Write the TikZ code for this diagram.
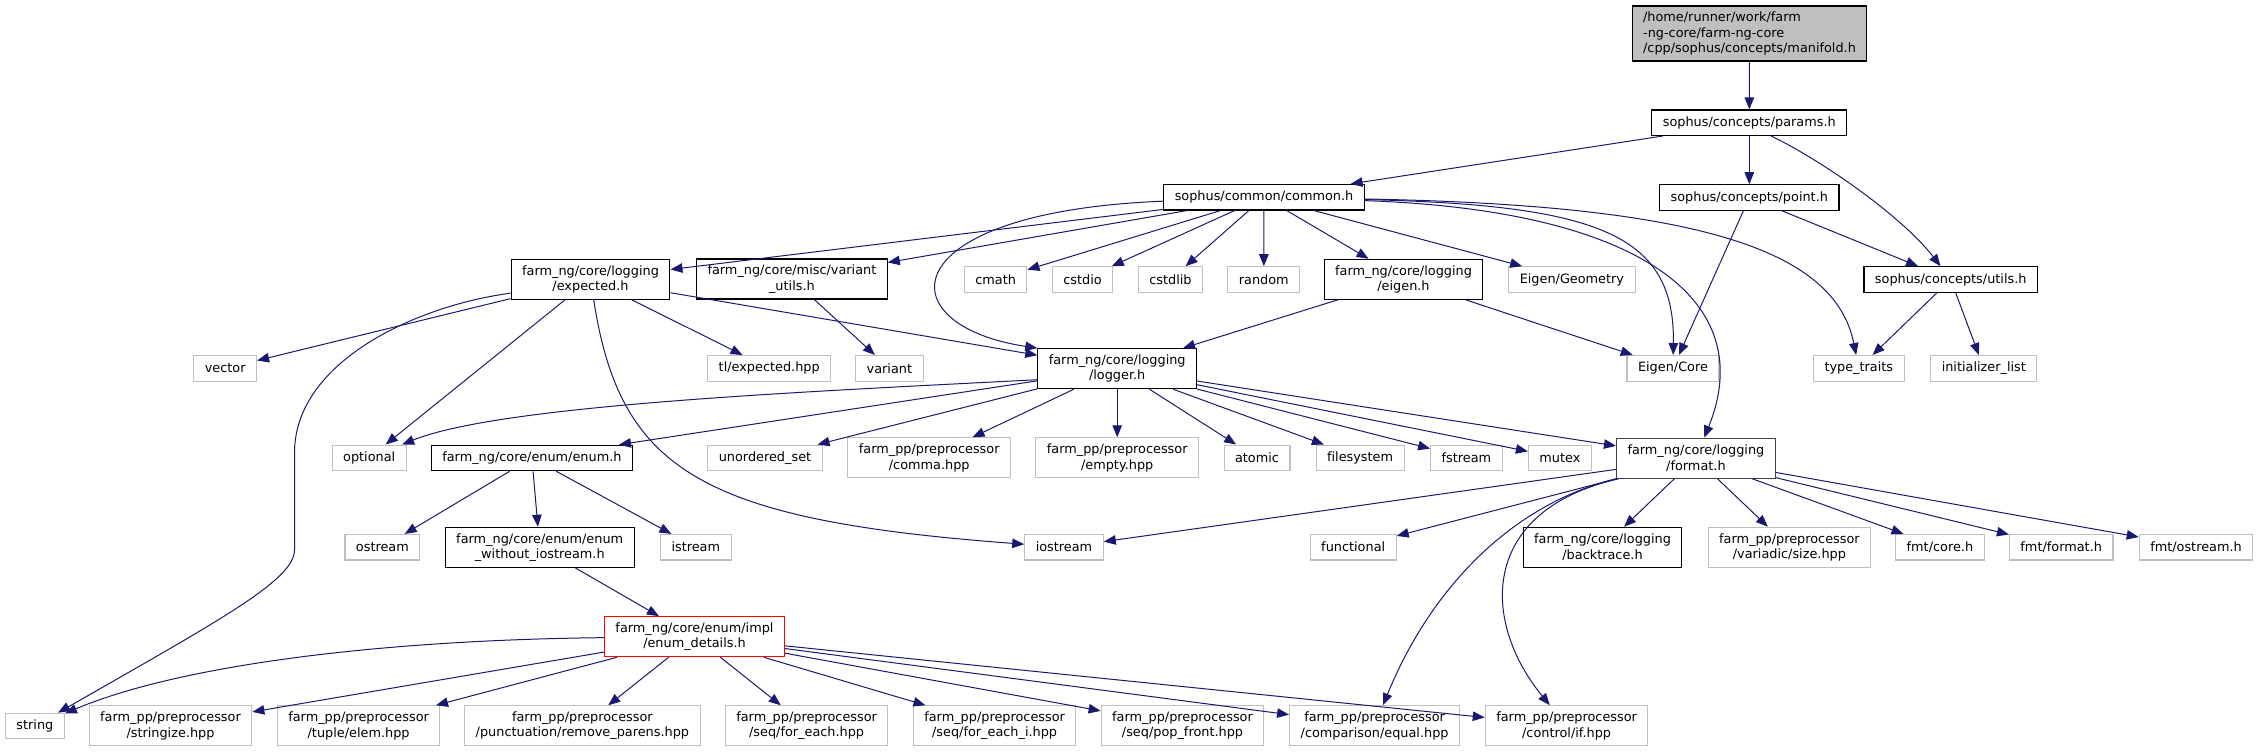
\documentclass[tikz,border=0pt]{standalone}
\usepackage{fontspec}
\setmainfont{DejaVu Sans}[Ligatures=NoCommon]
\usetikzlibrary{arrows.meta}
\definecolor{edgeblue}{HTML}{191970}
\definecolor{extgray}{HTML}{BFBFBF}
\definecolor{darkborder}{HTML}{404040}

\begin{document}
\begin{tikzpicture}[x=1pt, y=-1pt,
  file/.style={draw, line width=1.1pt, inner xsep=11pt, inner ysep=1pt,
    minimum height=25.5pt, align=center, font=\fontsize{12.85}{15.3}\selectfont},
  doc/.style={file, draw=black},
  ext/.style={file, draw=extgray},
  two/.style={minimum height=40pt},
  incl/.style={-{Triangle[length=12pt, width=9.5pt]}, line width=1pt, edgeblue}
]
  \useasboundingbox (0,0) rectangle (2259,752);

  \node[doc, fill=extgray, align=left, minimum height=55pt] (manifold) at (1749.5,33.5)
    {/home/runner/work/farm\\-ng-core/farm-ng-core\\/cpp/sophus/concepts/manifold.h};
  \node[doc] (params) at (1749.3,122.7) {sophus/concepts/params.h};
  \node[doc] (common) at (1264,197.2) {sophus/common/common.h};
  \node[doc] (point) at (1749.3,197.5) {sophus/concepts/point.h};
  \node[doc] (utils) at (1950.7,279.5) {sophus/concepts/utils.h};

  \node[doc, two] (expected) at (590.5,279.2) {farm\_ng/core/logging\\/expected.h};
  \node[doc, two] (variantutils) at (791.9,279) {farm\_ng/core/misc/variant\\\_utils.h};
  \node[ext] (cmath) at (995.6,279.5) {cmath};
  \node[ext] (cstdio) at (1082.5,279.5) {cstdio};
  \node[ext] (cstdlib) at (1170.5,279.5) {cstdlib};
  \node[ext] (random) at (1263.8,279.5) {random};
  \node[doc, two] (eigenh) at (1403.5,279.3) {farm\_ng/core/logging\\/eigen.h};
  \node[ext] (geometry) at (1571.9,279.5) {Eigen/Geometry};

  \node[ext] (vector) at (225.2,368.3) {vector};
  \node[ext] (tlexpected) at (769.2,368.3) {tl/expected.hpp};
  \node[ext] (variant) at (889.4,368.3) {variant};
  \node[doc, two] (logger) at (1117.2,368.7) {farm\_ng/core/logging\\/logger.h};
  \node[ext] (eigencore) at (1673,368.3) {Eigen/Core};
  \node[ext] (typetraits) at (1858.8,368.3) {type\_traits};
  \node[ext] (initlist) at (1983.8,368.3) {initializer\_list};

  \node[ext] (optional) at (369.2,457.8) {optional};
  \node[doc] (enumh) at (531.9,458) {farm\_ng/core/enum/enum.h};
  \node[ext] (unorderedset) at (765,457.8) {unordered\_set};
  \node[ext, two] (comma) at (929.2,457.8) {farm\_pp/preprocessor\\/comma.hpp};
  \node[ext, two] (empty) at (1117.2,457.8) {farm\_pp/preprocessor\\/empty.hpp};
  \node[ext] (atomic) at (1257,457.8) {atomic};
  \node[ext] (filesystem) at (1360.1,457.8) {filesystem};
  \node[ext] (fstream) at (1466.4,457.8) {fstream};
  \node[ext] (mutex) at (1559.9,457.8) {mutex};
  \node[file, two, draw=darkborder] (format) at (1695.9,458.2) {farm\_ng/core/logging\\/format.h};

  \node[ext] (ostream) at (382.4,547.2) {ostream};
  \node[doc, two] (enumnoio) at (539.7,547.3) {farm\_ng/core/enum/enum\\\_without\_iostream.h};
  \node[ext] (istream) at (695.8,547.2) {istream};
  \node[ext] (iostream) at (1064,547.2) {iostream};
  \node[ext] (functional) at (1353.2,547.2) {functional};
  \node[doc, two] (backtrace) at (1602.5,547.3) {farm\_ng/core/logging\\/backtrace.h};
  \node[ext, two] (vsize) at (1789.4,547.3) {farm\_pp/preprocessor\\/variadic/size.hpp};
  \node[ext] (fmtcore) at (1939.9,547.2) {fmt/core.h};
  \node[ext] (fmtformat) at (2061.2,547.2) {fmt/format.h};
  \node[ext] (fmtostream) at (2196,547.2) {fmt/ostream.h};

  \node[file, two, draw=red] (enumdetails) at (694.5,636.7) {farm\_ng/core/enum/impl\\/enum\_details.h};

  \node[ext] (string) at (34.9,726) {string};
  \node[ext, two] (stringize) at (170.5,725.8) {farm\_pp/preprocessor\\/stringize.hpp};
  \node[ext, two] (tupleelem) at (358.6,725.8) {farm\_pp/preprocessor\\/tuple/elem.hpp};
  \node[ext, two] (rmparens) at (582.4,725.8) {farm\_pp/preprocessor\\/punctuation/remove\_parens.hpp};
  \node[ext, two] (foreach) at (806.6,725.8) {farm\_pp/preprocessor\\/seq/for\_each.hpp};
  \node[ext, two] (foreachi) at (994.6,725.8) {farm\_pp/preprocessor\\/seq/for\_each\_i.hpp};
  \node[ext, two] (popfront) at (1182.5,725.8) {farm\_pp/preprocessor\\/seq/pop\_front.hpp};
  \node[ext, two] (equal) at (1374.6,725.8) {farm\_pp/preprocessor\\/comparison/equal.hpp};
  \node[ext, two] (ctrlif) at (1566.6,725.8) {farm\_pp/preprocessor\\/control/if.hpp};

  \draw[incl] (manifold) -- (params);
  \draw[incl] (params) -- (common);
  \draw[incl] (params) -- (point);
  \draw[incl] ([xshift=22pt]params.south) .. controls (1830,165) and (1905,220) .. (utils);
  \draw[incl] (point) -- (eigencore);
  \draw[incl] (point) -- (utils);
  \draw[incl] (utils) -- (typetraits);
  \draw[incl] (utils) -- (initlist);

  \draw[incl] (common) -- (expected);
  \draw[incl] (common) -- (variantutils);
  \draw[incl] (common) -- (cmath);
  \draw[incl] (common) -- (cstdio);
  \draw[incl] (common) -- (cstdlib);
  \draw[incl] (common) -- (random);
  \draw[incl] (common) -- (eigenh);
  \draw[incl] (common) -- (geometry);
  \draw[incl] (common) .. controls (1600,205) and (1675,235) .. (eigencore);
  \draw[incl] (common) .. controls (1700,205) and (1835,250) .. (typetraits);
  \draw[incl] (common) .. controls (1640,210) and (1760,300) .. (format);
  \draw[incl] (common) .. controls (890,212) and (885,325) .. (logger.north west);
  \draw[incl] (eigenh) -- (logger);
  \draw[incl] (eigenh) -- (eigencore);

  \draw[incl] (expected) -- (vector);
  \draw[incl] (expected) -- (optional);
  \draw[incl] (expected) -- (tlexpected);
  \draw[incl] (expected) -- (logger);
  \draw[incl] (expected) .. controls (620,470) and (700,520) .. (iostream);
  \draw[incl] ([yshift=-14pt]expected.west) .. controls (420,305) and (294.5,360) .. (294.5,453)
    -- (294.5,550) .. controls (294.5,580) and (220,620) .. (string);
  \draw[incl] (variantutils) -- (variant);

  \draw[incl] ([yshift=-11pt]logger.west) .. controls (800,392) and (500,405) .. (optional);
  \draw[incl] (logger) -- (enumh);
  \draw[incl] (logger) -- (unorderedset);
  \draw[incl] (logger) -- (comma);
  \draw[incl] (logger) -- (empty);
  \draw[incl] (logger) -- (atomic);
  \draw[incl] (logger) -- (filesystem);
  \draw[incl] (logger) -- (fstream);
  \draw[incl] (logger) -- (mutex);
  \draw[incl] (logger) -- (format);

  \draw[incl] (enumh) -- (ostream);
  \draw[incl] (enumh) -- (enumnoio);
  \draw[incl] (enumh) -- (istream);
  \draw[incl] (enumnoio) -- (enumdetails);

  \draw[incl] (format) -- (iostream);
  \draw[incl] (format) -- (functional);
  \draw[incl] (format) -- (backtrace);
  \draw[incl] (format) -- (vsize);
  \draw[incl] (format) -- (fmtcore);
  \draw[incl] (format) -- (fmtformat);
  \draw[incl] (format) -- (fmtostream);
  \draw[incl] (format.south west) .. controls (1510,505) and (1430,590) .. (equal);
  \draw[incl] ([xshift=3pt]format.south west) .. controls (1480,510) and (1480,620) .. (ctrlif);

  \draw[incl] (enumdetails) .. controls (380,640) and (180,665) .. (string);
  \draw[incl] (enumdetails) -- (stringize);
  \draw[incl] (enumdetails) -- (tupleelem);
  \draw[incl] (enumdetails) -- (rmparens);
  \draw[incl] (enumdetails) -- (foreach);
  \draw[incl] (enumdetails) -- (foreachi);
  \draw[incl] (enumdetails) -- (popfront);
  \draw[incl] (enumdetails) -- (equal);
  \draw[incl] (enumdetails) -- (ctrlif);
\end{tikzpicture}
\end{document}
